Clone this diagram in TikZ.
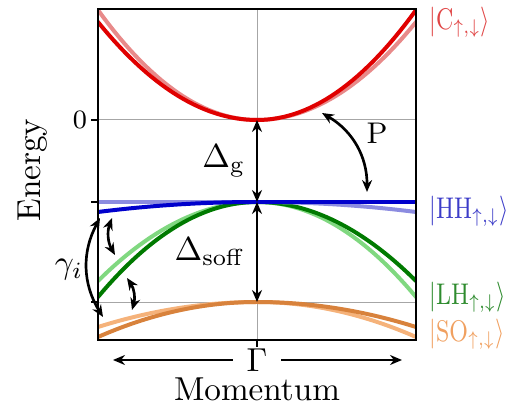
\documentclass[tikz,border=0pt]{standalone}
\usepackage{amsmath,amssymb}
\usepackage{tikz}
\usetikzlibrary{arrows.meta,calc,positioning}
\definecolor{cCdk}{HTML}{E00000}
\definecolor{cClt}{HTML}{E88A8A}
\definecolor{cClb}{HTML}{E04545}
\definecolor{cHdk}{HTML}{0000CC}
\definecolor{cHlt}{HTML}{8C8CE0}
\definecolor{cHlb}{HTML}{3C3CC8}
\definecolor{cLdk}{HTML}{007A00}
\definecolor{cLlt}{HTML}{80D880}
\definecolor{cLlb}{HTML}{2E8B2E}
\definecolor{cSdk}{HTML}{D8823C}
\definecolor{cSlt}{HTML}{F5B27A}
\definecolor{cSlb}{HTML}{F0A060}

\begin{document}
\begin{tikzpicture}[x=1.0587cm,y=1.0587cm,
   >={Stealth[length=3.6pt,width=3pt]},
   band/.style={line width=1.2pt,line cap=round},
   gap/.style={thick,<->},
   grid line/.style={gray!70,line width=0.3pt},
   ket/.style={right,font=\small,inner sep=0pt,xscale=0.78},
   declare function={q(\k)=\k/1.59;}]
  \useasboundingbox (-2.57,-2.84) rectangle (2.53,1.20);
  \coordinate (G0) at (0,0);
  \coordinate (GHH) at (0,-0.82);
  \coordinate (GSO) at (0,-1.82);
  % guide lines
  \draw[grid line] (0,-2.20) -- (0,1.11);
  \draw[grid line] (-1.59,0) -- (1.59,0);
  \draw[grid line] (-1.59,-1.82) -- (1.59,-1.82);
  % bands
  \begin{scope}
    \clip (-1.59,-2.20) rectangle (1.59,1.11);
    \draw[band,cClt] plot[domain=-1.59:1.59,samples=61]
         (\x,{1.04*q(\x)*q(\x)-0.06*q(\x)*abs(q(\x))});
    \draw[band,cCdk] plot[domain=-1.59:1.59,samples=61]
         (\x,{1.04*q(\x)*q(\x)+0.06*q(\x)*abs(q(\x))});
    \draw[band,cSlt] plot[domain=-1.59:1.59,samples=61]
         (\x,{-1.82-0.30*q(\x)*q(\x)-0.05*q(\x)*abs(q(\x))});
    \draw[band,cSdk] plot[domain=-1.59:1.59,samples=61]
         (\x,{-1.82-0.30*q(\x)*q(\x)+0.05*q(\x)*abs(q(\x))});
    \draw[band,cLlt] plot[domain=-1.59:1.59,samples=61]
         (\x,{-0.82-0.87*q(\x)*q(\x)-0.08*q(\x)*abs(q(\x))});
    \draw[band,cLdk] plot[domain=-1.59:1.59,samples=61]
         (\x,{-0.82-0.87*q(\x)*q(\x)+0.08*q(\x)*abs(q(\x))});
    \draw[band,cHlt] plot[domain=-1.59:1.59,samples=61]
         (\x,{-0.82-0.05*q(\x)*q(\x)-0.05*q(\x)*abs(q(\x))});
    \draw[band,cHdk] plot[domain=-1.59:1.59,samples=61]
         (\x,{-0.82-0.05*q(\x)*q(\x)+0.05*q(\x)*abs(q(\x))});
  \end{scope}
  % frame and ticks
  \draw[line width=0.5pt] (-1.59,-2.20) rectangle (1.59,1.11);
  \foreach \t in {0,-0.82,-1.82}{\draw[line width=0.5pt] (-1.66,\t) -- (-1.59,\t);}
  \draw[line width=0.5pt] (0,-2.20) -- (0,-2.27);
  \node[left,inner sep=1pt,font=\footnotesize] (zero) at (-1.66,0) {0};
  % axis labels
  \node[rotate=90] (energy) at (-2.24,-0.50) {Energy};
  \node[inner sep=0pt] (gam) at (0,-2.40) {$\Gamma$};
  \coordinate (kL) at (-1.44,-2.40);
  \coordinate (kR) at (1.45,-2.40);
  \draw[thick,->] ([xshift=-4pt]gam.west) -- (kL);
  \draw[thick,->] ([xshift=4pt]gam.east) -- (kR);
  \node[inner sep=0pt] (mom) at (0,-2.69) {Momentum};
  % gaps
  \draw[gap] (G0) -- (GHH);
  \draw[gap] (GHH) -- (GSO);
  \node[left=0pt of {$(G0)!0.5!(GHH)$}] (dg) {$\Delta_{\mathrm{g}}$};
  \node[left=0pt of {$(GHH)!0.5!(GSO)$}] (dso) {$\Delta_{\mathrm{soff}}$};
  % momentum matrix element
  \coordinate (Pa) at (0.65,0.07);
  \coordinate (Pb) at (1.10,-0.72);
  \draw[gap] (Pa) to[bend left=30] (Pb);
  \node[font=\small] (P) at (1.20,-0.13) {P};
  % intervalence transitions
  \coordinate (g1a) at (-1.57,-0.98);
  \coordinate (g1b) at (-1.54,-1.97);
  \coordinate (g2a) at (-1.45,-0.98);
  \coordinate (g2b) at (-1.42,-1.35);
  \coordinate (g3a) at (-1.30,-1.58);
  \coordinate (g3b) at (-1.25,-1.90);
  \draw[gap] (g1a) to[bend right=30] (g1b);
  \draw[gap] (g2a) to[bend right=25] (g2b);
  \draw[gap] (g3a) to[bend left=25] (g3b);
  \node (gi) at (-1.88,-1.50) {$\gamma_i$};
  % states
  \node[ket,cClb] (kC) at (1.72,0.98) {$|\mathrm{C}_{\uparrow,\downarrow}\rangle$};
  \node[ket,cHlb] (kHH) at (1.72,-0.91) {$|\mathrm{HH}_{\uparrow,\downarrow}\rangle$};
  \node[ket,cLlb] (kLH) at (1.72,-1.77) {$|\mathrm{LH}_{\uparrow,\downarrow}\rangle$};
  \node[ket,cSlb] (kSO) at (1.72,-2.14) {$|\mathrm{SO}_{\uparrow,\downarrow}\rangle$};
\end{tikzpicture}
\end{document}
